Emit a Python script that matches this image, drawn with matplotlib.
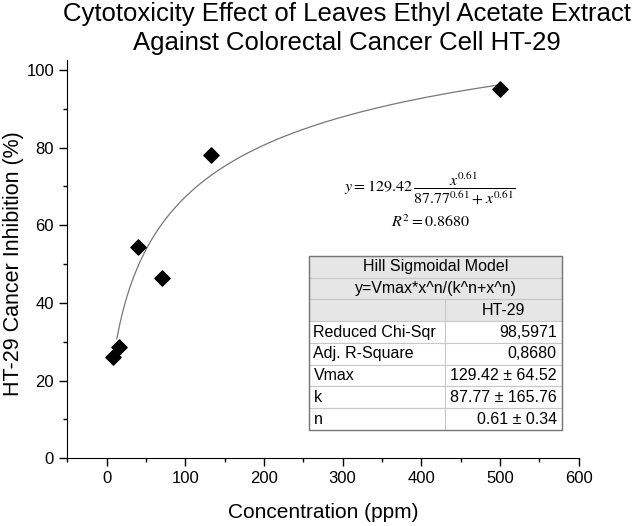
import matplotlib
matplotlib.use("Agg")
import numpy as np
import matplotlib.pyplot as plt
from matplotlib.patches import Rectangle
from matplotlib.ticker import MultipleLocator

plt.rcParams["font.family"] = ["Liberation Sans", "DejaVu Sans"]
plt.rcParams["mathtext.fontset"] = "stix"

# measured points
conc = [7.6, 16, 40, 71, 133, 500]
inhibition = [26.0, 28.6, 54.4, 46.3, 78.0, 95.0]

# Hill fit parameters
vmax = 129.42
k = 87.77
n = 0.61

table_rows = [
    ["Reduced Chi-Sqr", "98,5971"],
    ["Adj. R-Square", "0,8680"],
    ["Vmax", "129.42 \u00b1 64.52"],
    ["k", "87.77 \u00b1 165.76"],
    ["n", "0.61 \u00b1 0.34"],
]

fig = plt.figure(figsize=(6.44, 5.26), dpi=100, facecolor="white")
ax = fig.add_axes([0.1045, 0.1287, 0.794, 0.757])

xfit = np.linspace(13, 500, 300)
yfit = vmax * xfit ** n / (k ** n + xfit ** n)
ax.plot(xfit, yfit, color="#777777", linewidth=0.9, zorder=2)
ax.scatter(conc, inhibition, marker="D", s=60, color="black", zorder=3)

ax.set_xlim(-50, 600)
ax.set_ylim(0, 102.5)
ax.xaxis.set_major_locator(MultipleLocator(100))
ax.xaxis.set_minor_locator(MultipleLocator(50))
ax.yaxis.set_major_locator(MultipleLocator(20))
ax.yaxis.set_minor_locator(MultipleLocator(10))
ax.spines["top"].set_visible(False)
ax.spines["right"].set_visible(False)
ax.tick_params(which="major", direction="out", length=6, width=1, labelsize=12)
ax.tick_params(which="minor", direction="out", length=3, width=1)

ax.set_xlabel("Concentration (ppm)", fontsize=15, labelpad=12)
ax.set_ylabel("HT-29 Cancer Inhibition (%)", fontsize=15.5, va="center")
ax.yaxis.set_label_coords(-0.106, 0.49)
fig.text(0.539, 0.997,
         "Cytotoxicity Effect of Leaves Ethyl Acetate Extract\nAgainst Colorectal Cancer Cell HT-29",
         fontsize=18.5, ha="center", va="top", multialignment="center", linespacing=1.3)

ax.text(0.7095, 0.679, r"$y = 129.42\,\dfrac{x^{0.61}}{87.77^{0.61} + x^{0.61}}$",
        transform=ax.transAxes, ha="center", va="center", fontsize=11.5)
ax.text(0.7095, 0.594, r"$R^2 = 0.8680$", transform=ax.transAxes,
        ha="center", va="center", fontsize=11.5)

# table in pixel-derived axes fractions
tx0, tx1, txm = 0.4734, 0.9671, 0.7389
ty_top, ty_bot = 0.5083, 0.0711
nrows = 8
rh = (ty_top - ty_bot) / nrows
grid_c = "#c8c8c8"
head_c = "#e6e6e6"

def row_y(i):
    return ty_top - (i + 1) * rh

for i in range(nrows):
    face = head_c if i < 3 else "white"
    ax.add_patch(Rectangle((tx0, row_y(i)), tx1 - tx0, rh, transform=ax.transAxes,
                           facecolor=face, edgecolor=grid_c, linewidth=0.8, zorder=4))
ax.plot([txm, txm], [row_y(2) + rh, ty_bot], transform=ax.transAxes,
        color=grid_c, linewidth=0.8, zorder=5)
ax.add_patch(Rectangle((tx0, ty_bot), tx1 - tx0, ty_top - ty_bot, transform=ax.transAxes,
                       facecolor="none", edgecolor="#777777", linewidth=1.0, zorder=6))

fs = 11.5
ax.text((tx0 + tx1) / 2, row_y(0) + rh / 2, "Hill Sigmoidal Model", transform=ax.transAxes,
        ha="center", va="center", fontsize=fs, zorder=7)
ax.text((tx0 + tx1) / 2, row_y(1) + rh / 2, "y=Vmax*x^n/(k^n+x^n)", transform=ax.transAxes,
        ha="center", va="center", fontsize=fs, zorder=7)
ax.text((txm + tx1) / 2, row_y(2) + rh / 2, "HT-29", transform=ax.transAxes,
        ha="center", va="center", fontsize=fs, zorder=7)
for j, (lab, val) in enumerate(table_rows):
    yc = row_y(3 + j) + rh / 2
    ax.text(tx0 + 0.008, yc, lab, transform=ax.transAxes, ha="left", va="center",
            fontsize=fs, zorder=7)
    ax.text(tx1 - 0.01, yc, val, transform=ax.transAxes, ha="right", va="center",
            fontsize=fs, zorder=7)

fig.savefig("out.png", dpi=100, facecolor="white")
